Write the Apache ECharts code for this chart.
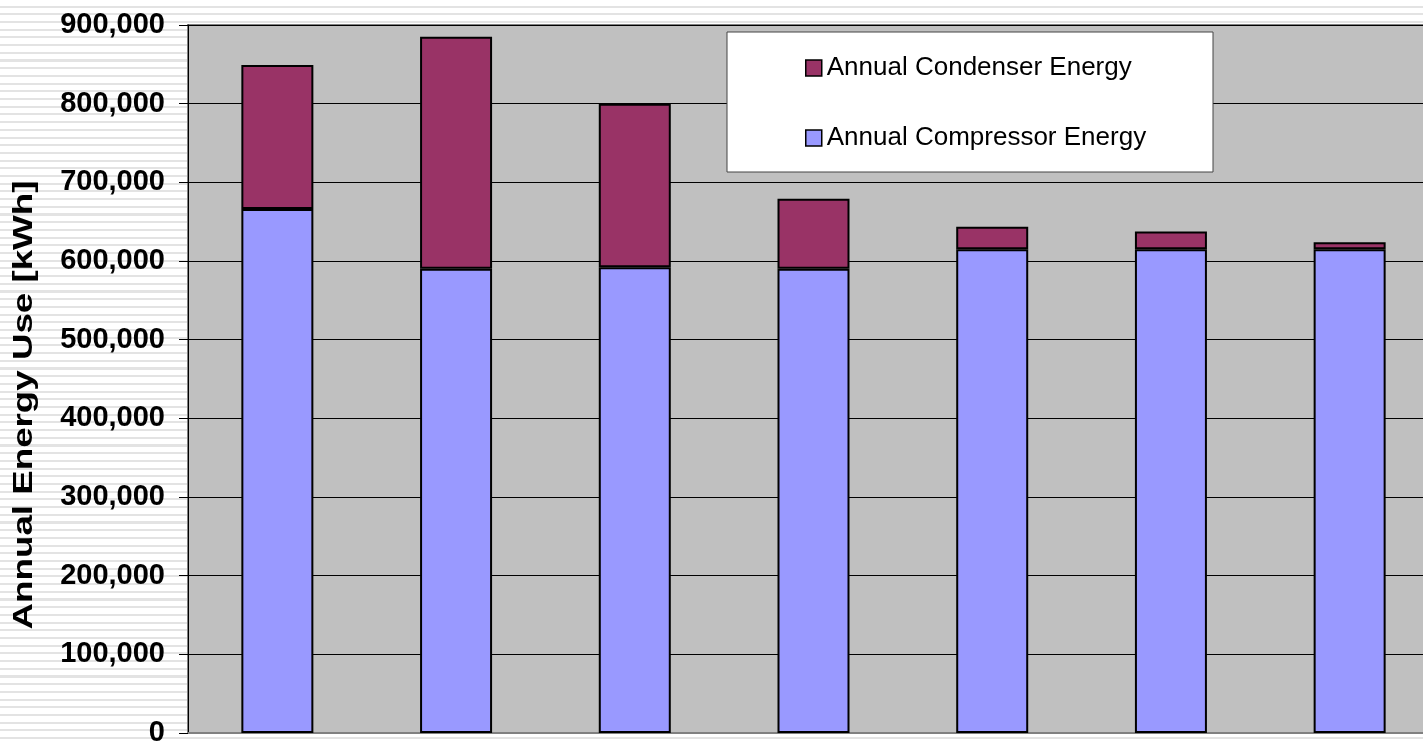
<!DOCTYPE html>
<html>
<head>
<meta charset="utf-8">
<script src="https://cdn.jsdelivr.net/npm/echarts@6/dist/echarts.min.js"></script>
<style>
  html, body {
    margin: 0;
    padding: 0;
  }
  body {
    /* striped page background behind the plot */
    background: repeating-linear-gradient(to bottom, #ffffff 0px, #ffffff 5.6px, #e3e3e3 5.6px, #e3e3e3 7.7px);
  }
  #chart {
    width: 1423px;
    height: 741px;
  }
</style>
</head>
<body>
<div id="chart"></div>
<script>
// 数据
const categories = ['1', '2', '3', '4', '5', '6', '7']
const compressorEnergy = [666000, 590000, 592000, 590000, 615000, 615000, 615000]
const condenserEnergy = [183000, 295000, 208000, 89000, 28600, 22500, 8700]
const yMin = 0
const yMax = 900000
const yStep = 100000
const yTitle = 'Annual Energy Use [kWh]'
const condenserName = 'Annual Condenser Energy'
const compressorName = 'Annual Compressor Energy'

const chart = echarts.init(document.getElementById('chart'))

const barBorder = {
  borderColor: '#000',
  borderWidth: 2
}

const option = {
  animation: false,
  backgroundColor: 'transparent',
  textStyle: {
    fontFamily: 'Liberation Sans, Arial, sans-serif'
  },
  grid: {
    left: 188,
    top: 25,
    width: 1251,
    height: 708,
    outerBoundsMode: 'none',
    containLabel: false,
    show: true,
    backgroundColor: '#c0c0c0',
    borderColor: '#808080',
    borderWidth: 2
  },
  legend: {
    orient: 'vertical',
    left: 805,
    top: 53,
    padding: 0,
    itemGap: 40,
    itemWidth: 16,
    itemHeight: 16,
    icon: 'rect',
    data: [condenserName, compressorName],
    itemStyle: {
      borderColor: '#000',
      borderWidth: 1.5
    },
    textStyle: {
      fontFamily: 'Liberation Sans, Arial, sans-serif',
      fontSize: 26,
      lineHeight: 30,
      color: '#000'
    },
    z: 5
  },
  graphic: [
    { // 图例边框
      type: 'rect',
      z: 3,
      shape: { x: 727, y: 32, width: 486, height: 140 },
      style: { fill: '#fff', stroke: '#444', lineWidth: 1 }
    },
    { // y轴标题
      type: 'text',
      z: 3,
      x: 25,
      y: 405,
      rotation: Math.PI / 2,
      scaleX: 1.36,
      style: {
        text: yTitle,
        fill: '#000',
        font: 'bold 27px "Liberation Sans", Arial, sans-serif',
        align: 'center',
        verticalAlign: 'middle'
      }
    }
  ],
  xAxis: {
    type: 'category',
    data: categories,
    axisLine: {
      show: true,
      lineStyle: { color: '#808080', width: 2 }
    },
    axisTick: { show: false },
    axisLabel: { show: false },
    splitLine: { show: false }
  },
  yAxis: {
    type: 'value',
    min: yMin,
    max: yMax,
    interval: yStep,
    axisLine: {
      show: true,
      lineStyle: { color: '#000', width: 1 }
    },
    axisTick: {
      show: true,
      inside: false,
      length: 9,
      lineStyle: { color: '#000', width: 1 }
    },
    axisLabel: {
      margin: 23,
      color: '#000',
      fontSize: 29,
      fontWeight: 'bold',
      fontFamily: 'Liberation Sans, Arial, sans-serif',
      formatter: (v) => v.toLocaleString('en-US')
    },
    splitLine: {
      show: true,
      lineStyle: { color: '#000', width: 1 }
    }
  },
  series: [
    {
      name: compressorName,
      type: 'bar',
      stack: 'energy',
      barWidth: 72,
      data: compressorEnergy,
      itemStyle: Object.assign({ color: '#9999ff' }, barBorder),
      emphasis: { disabled: true }
    },
    {
      name: condenserName,
      type: 'bar',
      stack: 'energy',
      barWidth: 72,
      data: condenserEnergy,
      itemStyle: Object.assign({ color: '#993366' }, barBorder),
      emphasis: { disabled: true }
    }
  ]
}

chart.setOption(option, true)
</script>
</body>
</html>
